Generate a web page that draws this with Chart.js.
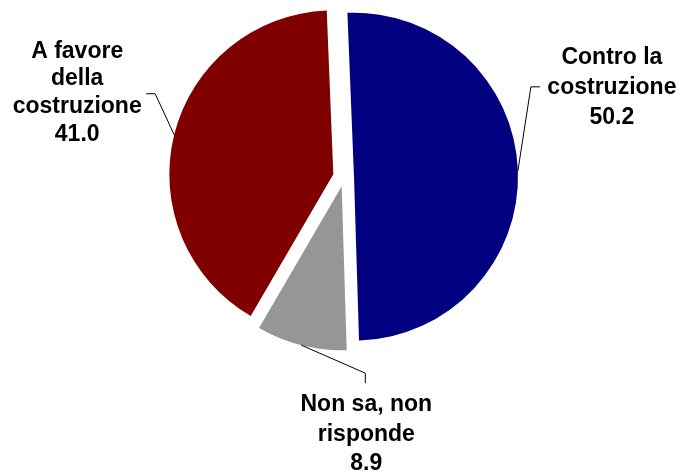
<!DOCTYPE html>
<html>
<head>
<meta charset="utf-8">
<script src="https://cdn.jsdelivr.net/npm/chart.js@4/dist/chart.umd.min.js"></script>
<style>
  html, body { margin: 0; padding: 0; background: #fff; }
  canvas { display: block; }
</style>
</head>
<body>
<canvas id="pie" width="679" height="475"></canvas>
<script>
/* ---------- Data ---------- */

const categories = ["Contro la costruzione", "Non sa, non risponde", "A favore della costruzione"];
const labelLines = [["Contro la", "costruzione"], ["Non sa, non", "risponde"], ["A favore", "della", "costruzione"]];
const values = [50.2, 8.9, 41.0];

/* ---------- Style ---------- */

const colors = ["#000080", "#969696", "#800000"];
const explode = [10, 9.5, 11];   // px each slice is pulled out
const FONT = "bold 23px 'Liberation Sans', Arial, sans-serif";

// label placement relative to the leader-line anchor on the slice edge
const labelPos = [
    { tx: 94, ty: -107, lh: 30, line: [[13, -84], [22, -84]] },
    { tx: 65, ty: 66, lh: 29.5, line: [[64, 28], [64, 38]] },
    { tx: -97, ty: -77, lh: 27.7, line: [[-19, -41], [-28, -41]] }
];

/* ---------- Exploded slices (same radius for all) ---------- */

const explodePlugin = {
    id: "explode",
    afterDatasetUpdate(chart, args) {
        args.meta.data.forEach((arc, i) => {
            if (arc._exploded) return;
            const draw = arc.draw.bind(arc);
            arc.draw = ctx => {
                const mid = (arc.startAngle + arc.endAngle) / 2;
                ctx.save();
                ctx.translate(Math.cos(mid) * explode[i], Math.sin(mid) * explode[i]);
                draw(ctx);
                ctx.restore();
            };
            arc._exploded = true;
        });
    }
};

/* ---------- Label plugin ---------- */

const pieLabels = {
    id: "pieLabels",
    afterDatasetsDraw(chart) {
        const ctx = chart.ctx;
        const meta = chart.getDatasetMeta(0);
        ctx.save();
        ctx.font = FONT;
        ctx.textAlign = "center";
        ctx.textBaseline = "alphabetic";
        ctx.fillStyle = "#000";
        ctx.strokeStyle = "#000";
        ctx.lineWidth = 1;

        meta.data.forEach((arc, i) => {
            const mid = (arc.startAngle + arc.endAngle) / 2;
            const r = arc.outerRadius + explode[i];
            const ax = arc.x + Math.cos(mid) * r;
            const ay = arc.y + Math.sin(mid) * r;
            const L = labelPos[i];

            ctx.beginPath();
            ctx.moveTo(ax, ay);
            L.line.forEach(pt => ctx.lineTo(ax + pt[0], ay + pt[1]));
            ctx.stroke();

            const lines = labelLines[i].concat([values[i].toFixed(1)]);
            lines.forEach((t, k) => {
                ctx.fillText(t, ax + L.tx, ay + L.ty + k * L.lh);
            });
        });
        ctx.restore();
    }
};

/* ---------- Chart ---------- */

new Chart(document.getElementById("pie"), {
    type: "pie",
    data: {
        labels: categories,
        datasets: [{
            data: values,
            backgroundColor: colors,
            borderWidth: 0,
            offset: 0,
            hoverOffset: 0
        }]
    },
    options: {
        responsive: false,
        animation: false,
        events: [],
        rotation: -2.3,
        layout: { padding: { top: 13, bottom: 134, left: 10, right: 1 } },
        plugins: {
            legend: { display: false },
            tooltip: { enabled: false }
        }
    },
    plugins: [explodePlugin, pieLabels]
});
</script>
</body>
</html>
